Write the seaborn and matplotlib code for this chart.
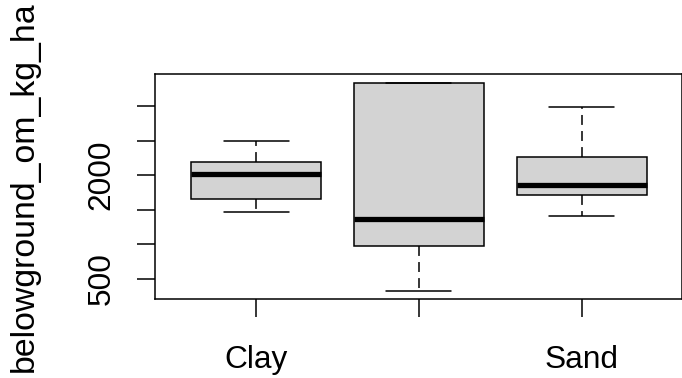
import numpy as np
import pandas as pd
import matplotlib
matplotlib.use("Agg")
import matplotlib.pyplot as plt
import seaborn as sns

sns.set_style("ticks")
plt.rcParams["font.family"] = ["Liberation Sans", "DejaVu Sans"]
plt.rcParams["text.color"] = "black"
plt.rcParams["axes.labelcolor"] = "black"
plt.rcParams["xtick.color"] = "black"
plt.rcParams["ytick.color"] = "black"

# five-number summaries (min, Q1, median, Q3, max)
textures = ["Clay", "Loam", "Sand"]
clay_vals = [1459, 1657, 2019, 2188, 2497]
loam_vals = [323, 976, 1358, 3337, 3337]
sand_vals = [1406, 1710, 1860, 2261, 2981]

x_labels = ["Clay", "", "Sand"]
y_ticks = [500, 1000, 1500, 2000, 2500, 3000]
y_labels = ["500", "", "", "2000", "", ""]

df = pd.DataFrame({
    "texture": np.repeat(textures, 5),
    "belowground_om_kg_ha": clay_vals + loam_vals + sand_vals,
})

fig = plt.figure(figsize=(6.82, 3.78), dpi=100)
# right edge of the frame falls just outside the picture, as in the original
ax = fig.add_axes([0.2277, 0.2098, 0.773, 0.5936])

lw = 1.1
sns.boxplot(data=df, x="texture", y="belowground_om_kg_ha", order=textures,
            whis=(0, 100), width=0.8, color="#D3D3D3", saturation=1,
            linecolor="black", linewidth=lw, ax=ax,
            medianprops=dict(linewidth=3.8, color="black", solid_capstyle="butt"),
            whiskerprops=dict(linestyle=(0, (6.5, 4)), linewidth=lw),
            capprops=dict(linewidth=lw))

ax.set_xlim(-0.62, 2.62)
ax.set_ylim(208, 3459)

ax.set_xticks(range(len(textures)))
ax.set_xticklabels(x_labels)
ax.set_yticks(y_ticks)
ax.set_yticklabels(y_labels, rotation=90, va="center")

fs = 22.8
ax.tick_params(axis="both", length=13, width=lw, color="black",
               labelsize=fs, labelcolor="black")
ax.tick_params(axis="x", pad=20)
ax.tick_params(axis="y", pad=15)

for s in ax.spines.values():
    s.set_visible(True)
    s.set_linewidth(lw)
    s.set_color("black")

ax.set_xlabel("")
ax.set_ylabel("belowground_om_kg_ha", fontsize=24.4, color="black")
ax.yaxis.set_label_coords(-0.219, 0.5)

fig.savefig("out.png", dpi=100)
